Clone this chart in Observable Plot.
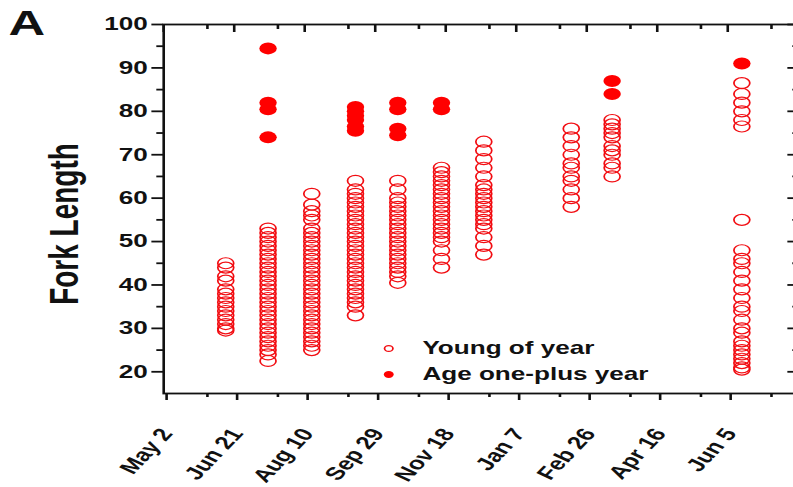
<!DOCTYPE html>
<html><head><meta charset="utf-8">
<script src="https://cdn.jsdelivr.net/npm/d3@7"></script>
<script src="https://cdn.jsdelivr.net/npm/@observablehq/plot@0.6"></script>
<style>
html,body{margin:0;padding:0;background:#fff;overflow:hidden;}
#wrap{position:relative;width:793px;height:487px;overflow:hidden;}
#chart svg{transform:scaleX(1.45);transform-origin:0 0;font-family:"Liberation Sans",Arial,sans-serif;}
</style></head><body><div id="wrap"><div id="chart"></div></div>
<script>
// ---- data ----
const sampleDates = ["2015-06-15","2015-07-15","2015-08-15","2015-09-15","2015-10-15","2015-11-15","2015-12-15","2016-02-15","2016-03-15","2016-06-15"];
const youngLengths = [
  [45,44,42,41,39,38,37,36,35,34,33,32,31,30,29.5],
  [53,52,51,50,49,48,47,46,45,44,43,42,41,40,39,38,37,36,35,34,33,32,31,30,29,28,27,26,25,24,22.5],
  [61,58.5,57,56,55,53,52,51,50,49,48,47,46,45,44,43,42,41,40,39,38,37,36,35,34,33,32,31,30,29,28,27,26,25],
  [64,62,61,60,59,58,57,56,55,54,53,52,51,50,49,48,47,46,45,44,43,42,41,40,39,38,37,36,35,33],
  [64,62,60,59,58,57,56,55,54,53,52,51,50,49,48,47,46,45,44,43,42,40.5],
  [67,66,65,64,63,62,61,60,59,58,57,56,55,54,53,52,51,50,48,46,44],
  [73,71,69,67,65,63,62,61,60,59,58,57,56,55,54,53,51,49,47],
  [76,74,72,70,68,67,65,64,62,60,58],
  [78,77,76,75,74,72,71,70,68,67,65],
  [86.5,84,82,80,78,76.5,55,48,46,45,43,41,39,37,35,34,32,30,29,27,26,25,24,23,22,21,20.5]
];
const adultDates = ["2015-07-15","2015-09-15","2015-10-15","2015-11-15","2016-03-15","2016-06-15"];
const adultLengths = [
  [94.5,82,80.5,74],
  [81,80,79,78,76.5,75.5],
  [82,80.5,76,74.5],
  [82,80.5],
  [87,84],
  [91]
];
const xTickLabels = ["May 2","Jun 21","Aug 10","Sep 29","Nov 18","Jan 7","Feb 26","Apr 16","Jun 5"];
const yTickValues = [20,30,40,50,60,70,80,90,100];
const yMinorValues = [25,35,45,55,65,75,85,95];
const seriesNames = ["Young of year","Age one-plus year"];

// ---- setup ----
const RED = "#f20d12";
const xStart = new Date("2015-05-02");
const xEnd = d3.utcDay.offset(xStart, 451);
const yDomain = [15, 100];
const xMajor = xTickLabels.map((_, i) => d3.utcDay.offset(xStart, 50 * i));
const xMinor = xMajor.map(d => d3.utcDay.offset(d, 31));

const young = sampleDates.flatMap((d, i) => youngLengths[i].map(v => ({date: new Date(d), length: v})));
const adult = adultDates.flatMap((d, i) => adultLengths[i].map(v => ({date: new Date(d), length: v})));

const fmt = d => xTickLabels[xMajor.findIndex(m => +m === +d)];
const lw = 1.8;

const chart = Plot.plot({
  width: 552, height: 487,
  marginLeft: 112.4, marginRight: 1, marginTop: 24, marginBottom: 94,
  style: {background: "#fff", color: "#111", overflow: "visible"},
  x: {type: "utc", domain: [xStart, xEnd]},
  y: {domain: yDomain},
  marks: [
    // frame & mirrored ticks
    Plot.frame({stroke: "#111", strokeWidth: lw}),
    Plot.axisY(yTickValues, {tickSize: 8, tickPadding: 3, fontSize: 18, fontWeight: "bold", strokeWidth: lw, label: null, tickFormat: d => d}),
    Plot.ruleY(yMinorValues, {y: d => d, x1: xStart, x2: xStart, insetLeft: -4.6, strokeWidth: lw, stroke: "#111"}),
    Plot.ruleY(yTickValues, {y: d => d, x1: xEnd, x2: xEnd, insetLeft: -8, strokeWidth: lw, stroke: "#111"}),
    Plot.ruleY(yMinorValues, {y: d => d, x1: xEnd, x2: xEnd, insetLeft: -4.6, strokeWidth: lw, stroke: "#111"}),
    Plot.axisX(xMajor, {tickSize: 7, tickPadding: 30, dx: 2, tickRotate: -56, fontSize: 18, fontWeight: "bold", strokeWidth: lw, label: null, tickFormat: fmt}),
    Plot.ruleX(xMinor, {x: d => d, y1: yDomain[0], y2: yDomain[0], insetBottom: -4, strokeWidth: lw, stroke: "#111"}),
    Plot.ruleX(xMajor, {x: d => d, y1: yDomain[1], y2: yDomain[1], insetBottom: -8, strokeWidth: lw, stroke: "#111"}),
    Plot.ruleX(xMinor, {x: d => d, y1: yDomain[1], y2: yDomain[1], insetBottom: -5, strokeWidth: lw, stroke: "#111"}),
    // data
    Plot.dot(young, {x: "date", y: "length", r: 5.5, stroke: RED, strokeWidth: 1.2, fill: "none"}),
    Plot.dot(adult, {x: "date", y: "length", r: 6, fill: "#ff0000", stroke: "none"}),
    // legend
    Plot.dot([seriesNames[0]], {frameAnchor: "bottom-left", dx: 155.2, dy: -45, r: 2.9, stroke: RED, strokeWidth: 1.2, fill: "none"}),
    Plot.dot([seriesNames[1]], {frameAnchor: "bottom-left", dx: 155.2, dy: -19, r: 3.4, fill: "#ff0000"}),
    Plot.text([seriesNames[0]], {text: d => d, frameAnchor: "bottom-left", dx: 178.4, dy: -45.5, textAnchor: "start", lineAnchor: "middle", fontSize: 18, fontWeight: "bold", fill: "#111"}),
    Plot.text([seriesNames[1]], {text: d => d, frameAnchor: "bottom-left", dx: 178.4, dy: -19.5, textAnchor: "start", lineAnchor: "middle", fontSize: 18, fontWeight: "bold", fill: "#111"}),
    // y label & panel letter
    Plot.text(["Fork Length"], {text: d => d, frameAnchor: "left", rotate: -90, dx: -68, dy: 15, fontSize: 28, fontWeight: "bold", textAnchor: "middle", lineAnchor: "middle", fill: "#111"}),
    Plot.text(["A"], {text: d => d, frameAnchor: "top-left", dx: -107, dy: -14, fontSize: 35, fontWeight: "bold", textAnchor: "start", lineAnchor: "top", fill: "#111"})
  ]
});
document.getElementById("chart").appendChild(chart);
</script>
</body></html>
